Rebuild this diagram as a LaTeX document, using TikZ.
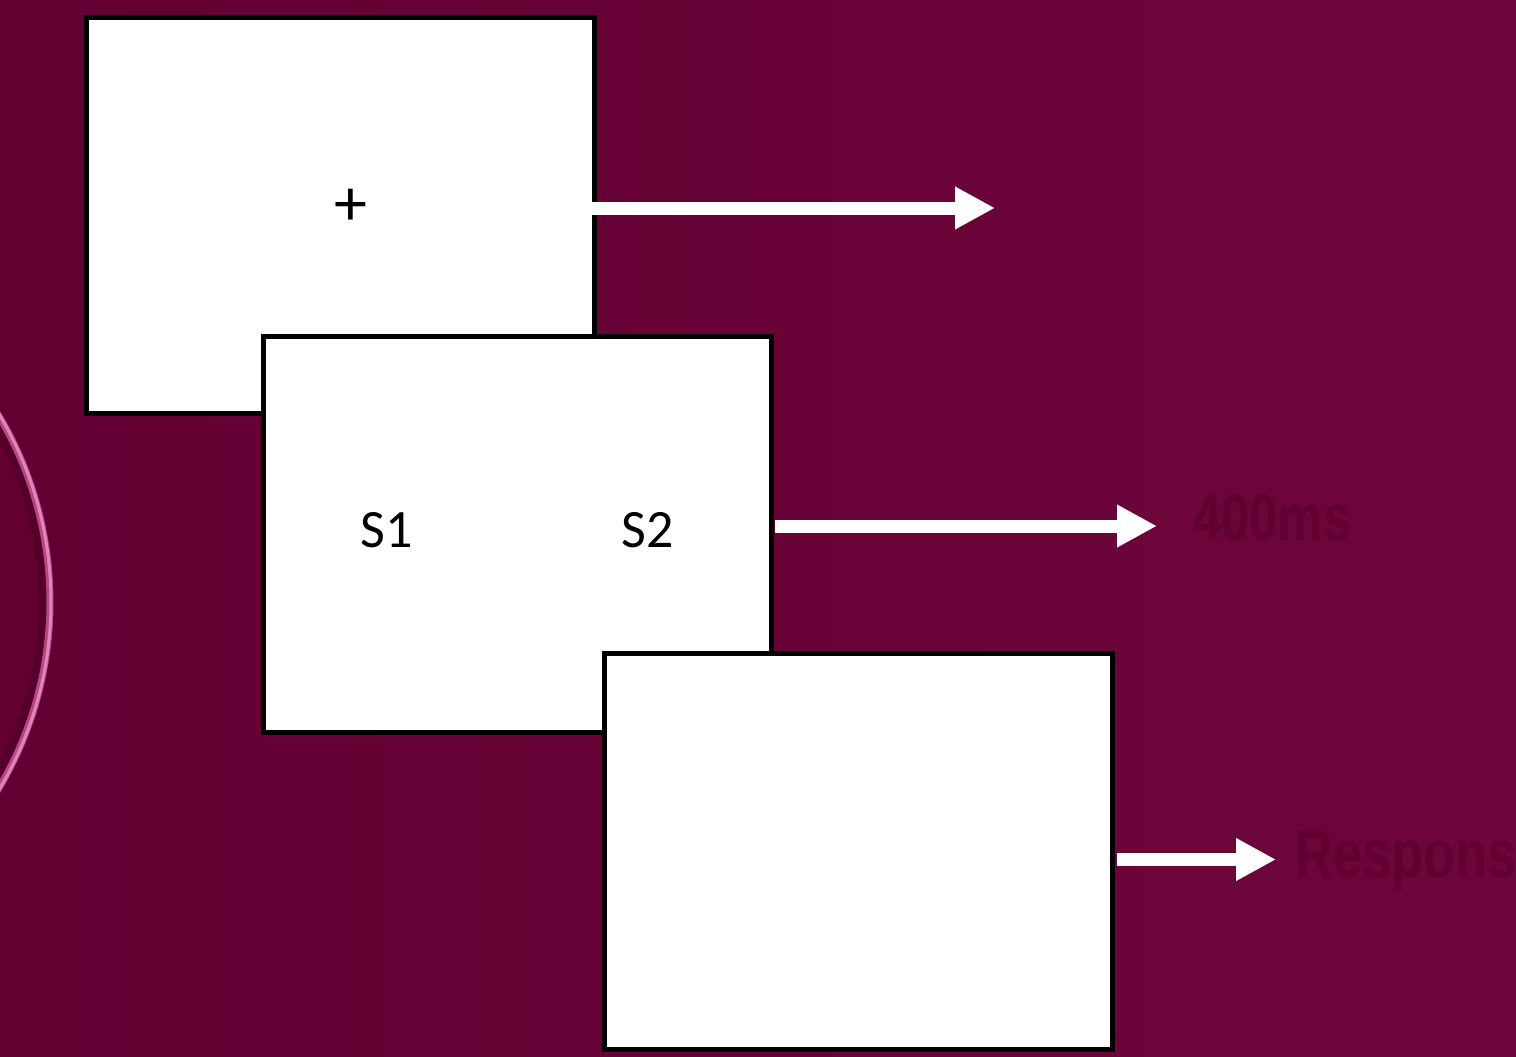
\documentclass[tikz,border=0pt]{standalone}
\usepackage{fontspec}
\setmainfont{Carlito}
\newfontfamily\labfont{Liberation Sans}
\usetikzlibrary{arrows.meta}
\definecolor{bgA}{RGB}{99,0,50}
\definecolor{bgB}{RGB}{110,6,60}
\definecolor{faint}{RGB}{97,0,49}
\definecolor{ringpink}{RGB}{185,70,132}
\definecolor{ringlight}{RGB}{232,145,196}
\definecolor{ringshadow}{RGB}{84,0,42}
\tikzset{
  screen/.style={draw=black, fill=white, line width=5pt, minimum width=508pt,
    minimum height=396pt, inner sep=0pt, outer sep=0pt},
  whitearrow/.style={draw=white, line width=13pt,
    -{Triangle[length=40pt 0 0, width=40pt 0 0]}},
  stimtext/.style={font=\fontsize{54}{60}\selectfont, inner sep=0pt, text=black},
  fainttext/.style={font=\labfont\bfseries\fontsize{66}{70}\selectfont, inner sep=0pt, text=faint}
}
\begin{document}
\begin{tikzpicture}[x=1pt,y=-1pt]
\useasboundingbox (0,0) rectangle (1516,1057);
\shade[left color=bgA, right color=bgB] (0,0) rectangle (1516,1057);
% decorative ring at the left edge
\begin{scope}
\clip (0,0) rectangle (1516,1057);
\draw[ringshadow, line width=9pt] (-314,602) circle[radius=357pt];
\draw[ringpink, line width=7pt] (-314,602) circle[radius=364pt];
\draw[ringlight, line width=3pt, opacity=0.85] (-314,602) circle[radius=365pt];
\end{scope}
% screens
\node[screen] (box1) at (340.75,215.75) {};
\node[screen] (box2) at (517.5,534.25) {};
\node[screen] (box3) at (858.5,851.75) {};
% contents
\node[stimtext, font=\fontsize{66}{72}\selectfont] (plus) at (350.5,207) {+};
\node[stimtext, anchor=base] (s1) at (386.5,547) {S1};
\node[stimtext, anchor=base] (s2) at (647.5,547) {S2};
% arrow ends
\coordinate (t1) at (995,208);
\coordinate (t2) at (1157,526);
\coordinate (t3) at (1276,859.5);
\draw[whitearrow] ([xshift=-3pt,yshift=7.75pt]box1.east) -- (t1);
\draw[whitearrow] ([xshift=3.5pt,yshift=8.25pt]box2.east) -- (t2);
\draw[whitearrow] ([xshift=4.5pt,yshift=-7.75pt]box3.east) -- (t3);
% faint labels
\node[fainttext, anchor=base west] (l400) at (1193,540) {\scalebox{0.77}[1]{400ms}};
\node[fainttext, anchor=base west] (lresp) at (1295,877) {\scalebox{0.77}[1]{\fontsize{68}{70}\selectfont Response}};
\end{tikzpicture}
\end{document}
